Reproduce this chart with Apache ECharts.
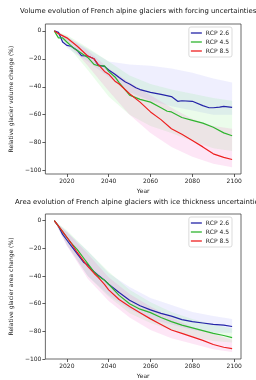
<!DOCTYPE html>
<html>
<head>
<meta charset="utf-8">
<script src="https://cdn.jsdelivr.net/npm/echarts@6/dist/echarts.min.js"></script>
<style>
  html, body { margin: 0; padding: 0; background: #fff; }
  #chart { width: 256px; height: 380px; }
</style>
</head>
<body>
<div id="chart"></div>
<script>
const myChart = echarts.init(document.getElementById('chart'));

const scenarios = ['RCP 2.6', 'RCP 4.5', 'RCP 8.5'];
const lineColors = ['#2424a8', '#2fb52f', '#ee2020'];
const bandColors = ['rgba(110,110,250,0.11)', 'rgba(90,230,90,0.12)', 'rgba(240,80,190,0.14)'];
const xTicks = [2020, 2040, 2060, 2080, 2100];
const yTicks = [0, -20, -40, -60, -80, -100];

// volume (top panel) - mean lines
const volYears26 = [2014, 2016, 2018, 2020, 2022, 2025, 2027, 2030, 2033, 2035, 2038, 2040, 2043, 2045, 2048, 2050, 2053, 2055, 2060, 2065, 2070, 2073, 2075, 2080, 2085, 2088, 2090, 2093, 2095, 2099];
const volMean26 = [0, -1, -8, -10.4, -11, -14, -17.7, -18, -20, -24.5, -25.4, -28, -31, -33.4, -36.6, -38, -40.7, -42, -44, -45.5, -47, -50.4, -50, -50.4, -53.5, -55, -55, -54.5, -54, -54.7];
const volYears45 = [2014, 2016, 2018, 2020, 2023, 2025, 2030, 2033, 2035, 2038, 2040, 2043, 2045, 2050, 2055, 2060, 2065, 2068, 2070, 2075, 2080, 2085, 2090, 2095, 2099];
const volMean45 = [0, -5, -5, -8, -12, -14, -19, -24, -25, -25, -29, -33, -37, -46, -49, -51, -55, -57.5, -58, -62, -64, -66, -69, -73, -75];
const volYears85 = [2014, 2016, 2020, 2025, 2030, 2033, 2035, 2038, 2040, 2043, 2045, 2050, 2055, 2060, 2065, 2070, 2075, 2080, 2085, 2090, 2095, 2099];
const volMean85 = [0, -2, -5, -11, -18, -20, -24, -29, -31, -36, -38, -45, -51, -58, -63.5, -70, -74, -78.5, -83, -88, -90.5, -92];

// volume bands
const bandYears = [2014, 2020, 2030, 2040, 2050, 2060, 2070, 2080, 2090, 2099];
const volUpper = [
  [0, -4, -13, -22, -24, -25, -27, -30, -34, -37],
  [0, -3, -12, -22, -32, -38, -42, -45, -48, -50],
  [0, -4, -14, -27, -37, -46, -55, -63, -68, -70]
];
const volLower = [
  [0, -12, -22, -33, -44, -50, -54, -57, -60, -60],
  [0, -10, -28, -47, -60, -68, -73, -79, -84, -86],
  [0, -8, -25, -43, -60, -73, -83, -90, -95, -97.5]
];

// area (bottom panel) - mean lines
const areaYears = [2014, 2016, 2018, 2020, 2022, 2025, 2028, 2030, 2033, 2035, 2038, 2040, 2045, 2050, 2055, 2060, 2065, 2070, 2075, 2080, 2085, 2090, 2095, 2099];
const areaMean26 = [0, -4, -10, -14, -18, -24, -30, -32, -37, -39.5, -43, -46, -52, -57.5, -61.5, -64.5, -67, -69, -71.5, -73, -74, -75, -75.5, -76.5];
const areaMean45 = [0, -4, -8, -12, -16, -21, -27, -31, -37, -40, -43, -46, -54, -60, -64, -66.5, -70, -73, -75.5, -77.5, -79.5, -81.5, -83, -84.5];
const areaMean85 = [0, -4, -8, -12, -16, -23, -29, -33, -38, -41, -46, -50, -57, -62, -66.5, -71, -75, -79, -81.5, -84, -86.5, -89.5, -91.5, -92.5];

// area bands
const areaUpper = [
  [0, -8, -22, -38, -48, -56, -61, -66, -69, -71],
  [0, -7, -22, -37, -50, -59, -66, -71, -75, -78],
  [0, -8, -24, -41, -53, -62, -70, -77, -82, -86]
];
const areaLower = [
  [0, -18, -40, -54, -64, -71, -75, -79, -81, -81],
  [0, -17, -40, -55, -67, -74, -79, -84, -87, -88],
  [0, -18, -42, -58, -70, -79, -85, -89, -93, -95]
];

const volMeans = [[volYears26, volMean26], [volYears45, volMean45], [volYears85, volMean85]];
const areaMeans = [[areaYears, areaMean26], [areaYears, areaMean45], [areaYears, areaMean85]];

const pairs = (xs, ys) => xs.map((x, i) => [x, ys[i]]);
const minus = (v) => (v < 0 ? '\u2212' + (-v) : String(v));
const font = 'DejaVu Sans';

// shaded uncertainty band: polygon between upper and lower, placed with the axes' scales
const bandSeries = (idx, upper, lower) =>
  upper.map((up, k) => {
    const lo = lower[k];
    return {
      name: 'band' + idx + k,
      type: 'custom',
      xAxisIndex: idx,
      yAxisIndex: idx,
      data: bandYears.map((y, i) => [y, up[i], lo[i]]),
      encode: {x: 0, y: [1, 2]},
      silent: true,
      clip: true,
      z: 1,
      renderItem: (params, api) => {
        if (params.dataIndex !== 0) return;
        const top = bandYears.map((y, i) => api.coord([y, up[i]]));
        const bottom = bandYears.map((y, i) => api.coord([y, lo[i]])).reverse();
        return {
          type: 'polygon',
          shape: {points: top.concat(bottom)},
          style: {fill: bandColors[k]},
        };
      },
    };
  });

const meanSeries = (idx, means) =>
  means.map(([xs, ys], k) => ({
    name: scenarios[k],
    type: 'line',
    xAxisIndex: idx,
    yAxisIndex: idx,
    data: pairs(xs, ys),
    showSymbol: false,
    lineStyle: {color: lineColors[k], width: 1.2},
    itemStyle: {color: lineColors[k]},
    z: 3,
  }));

const grids = [
  {left: 36, top: 24, width: 205, height: 150},
  {left: 36, top: 214, width: 205, height: 150},
];

const xAxis = (idx) => ({
  type: 'value',
  gridIndex: idx,
  min: 2009.75,
  max: 2103.25,
  name: 'Year',
  nameLocation: 'middle',
  nameGap: 14,
  nameTextStyle: {fontSize: 6, color: '#222', fontFamily: font},
  axisLine: {show: false, onZero: false},
  axisTick: {show: true, customValues: xTicks, length: 3, lineStyle: {color: '#333', width: 0.8}},
  axisLabel: {customValues: xTicks, fontSize: 6, color: '#222', fontFamily: font, margin: 4, formatter: (v) => String(v)},
  splitLine: {show: false},
});

const yAxis = (idx, name, min, max) => ({
  type: 'value',
  gridIndex: idx,
  min,
  max,
  name,
  nameLocation: 'middle',
  nameGap: 21,
  nameTextStyle: {fontSize: 6, color: '#222', fontFamily: font},
  axisLine: {show: false, onZero: false},
  axisTick: {show: true, customValues: yTicks, length: 3, lineStyle: {color: '#333', width: 0.8}},
  axisLabel: {customValues: yTicks, fontSize: 6, color: '#222', fontFamily: font, margin: 4, formatter: minus},
  splitLine: {show: false},
});

const legend = (top) => ({
  data: scenarios,
  orient: 'vertical',
  right: 24,
  top,
  icon: 'rect',
  itemWidth: 11,
  itemHeight: 1.3,
  itemGap: 3,
  padding: [3, 3, 3, 2],
  backgroundColor: '#fff',
  borderColor: '#ccc',
  borderWidth: 0.7,
  borderRadius: 2,
  textStyle: {fontSize: 6, color: '#222', fontFamily: font, padding: [0, 0, 0, -1]},
});

const option = {
  animation: false,
  title: [
    {text: 'Volume evolution of French alpine glaciers with forcing uncertainties', left: 15, top: 3,
      textStyle: {fontSize: 6.9, fontWeight: 'normal', color: '#111', fontFamily: font}},
    {text: 'Area evolution of French alpine glaciers with ice thickness uncertainties', left: 10, top: 194,
      textStyle: {fontSize: 6.9, fontWeight: 'normal', color: '#111', fontFamily: font}},
  ],
  legend: [legend(27), legend(217)],
  grid: grids.map((g) => ({...g, show: true, borderColor: '#444', borderWidth: 0.8, backgroundColor: 'transparent'})),
  xAxis: [xAxis(0), xAxis(1)],
  yAxis: [
    yAxis(0, 'Relative glacier volume change (%)', -102.4, 4.9),
    yAxis(1, 'Relative glacier area change (%)', -100, 4.8),
  ],
  series: [
    ...bandSeries(0, volUpper, volLower),
    ...meanSeries(0, volMeans),
    ...bandSeries(1, areaUpper, areaLower),
    ...meanSeries(1, areaMeans),
  ],
};

myChart.setOption(option);
</script>
</body>
</html>
